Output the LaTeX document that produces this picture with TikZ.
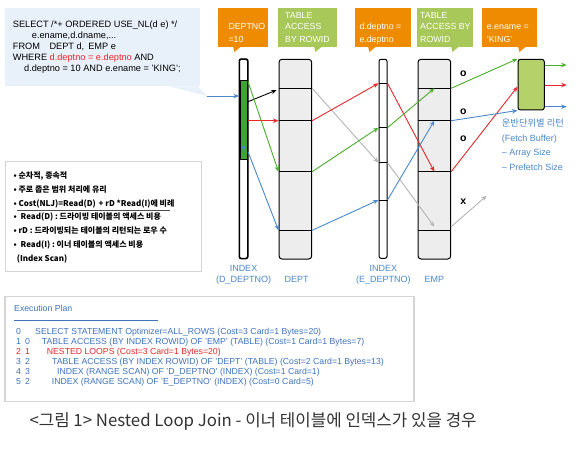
\documentclass[tikz,border=0pt]{standalone}
\usepackage{fontspec}
\setmainfont{Liberation Sans}
\newfontfamily\krfont{Noto Sans CJK KR}
\usetikzlibrary{arrows.meta}
\definecolor{sqlbg}{HTML}{E8F1F9}
\definecolor{corange}{HTML}{EE8B00}
\definecolor{cgreen}{HTML}{A8C85A}
\definecolor{fgreen}{HTML}{B5D16A}
\definecolor{bgreen}{HTML}{3EA535}
\definecolor{ared}{HTML}{E8282B}
\definecolor{agreen}{HTML}{4BAE2A}
\definecolor{ablue}{HTML}{4A88CB}
\definecolor{agray}{HTML}{B4B4B4}
\definecolor{pblue}{HTML}{3F74BD}
\definecolor{tfill}{HTML}{EDEDED}
\definecolor{bborder}{HTML}{D5D5D5}
\begin{document}
\begin{tikzpicture}[x=1pt,y=-1pt,
  tx/.style={inner sep=0pt,anchor=base west},
  sqlt/.style={tx,font=\fontsize{9.2}{11}\selectfont},
  calt/.style={tx,text=white,font=\fontsize{8.8}{11}\selectfont},
  lab/.style={inner sep=0pt,anchor=base,text=ablue,font=\fontsize{9}{11}\selectfont},
  bul/.style={tx,font=\krfont\bfseries\fontsize{8}{10}\selectfont},
  plan/.style={tx,text=pblue,font=\fontsize{8.7}{10}\selectfont},
  fet/.style={tx,text=ablue,font=\fontsize{9}{11}\selectfont},
  okmark/.style={inner sep=0pt,font=\bfseries\fontsize{10.5}{12}\selectfont},
  idxbar/.style={draw,fill=white,rounded corners=2pt,line width=1pt,inner sep=0pt,minimum width=8pt,minimum height=199pt},
  tbl/.style={draw,fill=tfill,rounded corners=3pt,line width=1pt,inner sep=0pt,minimum width=32.7pt,minimum height=199.7pt},
  rowline/.style={line width=0.6pt},
  callo/.style={fill=corange,inner sep=0pt,minimum height=38.4pt},
  callg/.style={fill=cgreen,inner sep=0pt,minimum height=38.4pt},
  arr/.style={line width=0.9pt,-{Stealth[length=5.5pt,width=4.5pt]}}
]
\useasboundingbox (0,0) rectangle (580,457);
\fill[white] (0,0) rectangle (580,457);

% ---------- SQL box ----------
\node[fill=sqlbg,inner sep=0pt,minimum width=195pt,minimum height=78pt] (sql) at (102.5,47.5) {};
\fill[sqlbg] (170,86.5) -- (198,86.5) -- (207,96) -- cycle;
\node[sqlt] (s1) at (12.7,28) {SELECT /*+ ORDERED USE\_NL(d e) */};
\node[sqlt] (s2) at (31.7,38.5) {e.ename,d.dname,...};
\node[sqlt] (s3) at (12.7,49.5) {FROM};
\node[sqlt] (s3b) at (49.3,49.5) {DEPT d,\hspace{4pt}EMP e};
\node[sqlt] (s4) at (12.7,61) {WHERE \textcolor{ared}{d.deptno = e.deptno} AND};
\node[sqlt] (s5) at (24,72) {d.deptno = 10 AND e.ename = 'KING';};

% ---------- callouts ----------
\node[callo,minimum width=50pt] (c1) at (243.3,27.5) {};
\fill[corange] (233,46.5) -- (241,46.5) -- (234.5,52) -- cycle;
\node[calt] (c1a) at (228.3,30) {DEPTNO};
\node[calt] (c1b) at (228.3,42.2) {=10};

\node[callg,minimum width=58.7pt] (c2) at (307.65,27.5) {};
\fill[cgreen] (314,46.5) -- (322,46.5) -- (315.5,52) -- cycle;
\node[calt] (c2a) at (285,18.2) {TABLE};
\node[calt] (c2b) at (285,30) {ACCESS};
\node[calt] (c2c) at (285,42.2) {BY ROWID};

\node[callo,minimum width=55.7pt] (c3) at (382.85,27.5) {};
\fill[corange] (368,46.5) -- (376,46.5) -- (369.5,52) -- cycle;
\node[calt] (c3a) at (359.3,30) {d.deptno =};
\node[calt] (c3b) at (359.3,42.2) {e.deptno};

\node[callg,minimum width=56.6pt] (c4) at (445,27.5) {};
\fill[cgreen] (451,46.5) -- (459,46.5) -- (452.5,52) -- cycle;
\node[calt] (c4a) at (420,18.2) {TABLE};
\node[calt] (c4b) at (420,30) {ACCESS BY};
\node[calt] (c4c) at (420,42.2) {ROWID};

\node[callo,minimum width=55.6pt] (c5) at (509.5,27.5) {};
\fill[corange] (518,46.5) -- (526,46.5) -- (519.5,52) -- cycle;
\node[calt] (c5a) at (486.7,30) {e.ename =};
\node[calt] (c5b) at (486.7,42.2) {'KING'};

% ---------- row coordinates ----------
\coordinate (r1) at (0,88.3);
\coordinate (r2) at (0,120.7);
\coordinate (r3) at (0,171.7);
\coordinate (r4) at (0,230.3);
\coordinate (e1) at (0,83.3);
\coordinate (e2) at (0,127.7);
\coordinate (e3) at (0,162.7);
\coordinate (e4) at (0,200);

% ---------- bars and tables ----------
\node[idxbar] (idxD) at (243.5,158.8) {};
\node[fill=bgreen,draw,line width=0.6pt,inner sep=0pt,minimum width=7pt,minimum height=78.6pt] (idxDg) at (243.5,120) {};
\draw[line width=1pt,rounded corners=2pt] (idxD.north west) rectangle (idxD.south east);
\node[tbl] (dept) at (295.35,159.15) {};
\node[idxbar] (idxE) at (383,158.8) {};
\node[tbl] (emp) at (434.35,159.15) {};
\node[draw,fill=fgreen,rounded corners=2.5pt,line width=1pt,inner sep=0pt,minimum width=26.3pt,minimum height=50.7pt] (fetch) at (531.15,84.65) {};

\foreach \r in {r1,r2,r3,r4}{
  \draw[rowline] (dept.west |- \r) -- (dept.east |- \r);
  \draw[rowline] (emp.west |- \r) -- (emp.east |- \r);
}
\foreach \r in {e1,e2,e3,e4}{
  \draw[rowline] (idxE.west |- \r) -- (idxE.east |- \r);
}

% ---------- labels ----------
\node[lab] (l1) at (243.5,271) {INDEX};
\node[lab] (l2) at (243.5,282.5) {(D\_DEPTNO)};
\node[lab] (l3) at (296.7,282.5) {DEPT};
\node[lab] (l4) at (383.3,271) {INDEX};
\node[lab] (l5) at (383.3,282.5) {(E\_DEPTNO)};
\node[lab] (l6) at (434.3,282.5) {EMP};

% ---------- arrows ----------
\coordinate (inB) at (206.7,96);
\coordinate (yk1) at (0,101.7);
\coordinate (yk2) at (0,89.3);
\coordinate (yg1) at (0,81.7);
\coordinate (yb1) at (0,151.7);
\coordinate (yb2) at (0,141);
\coordinate (yb3) at (0,151);
\coordinate (yx1) at (0,226.7);
\coordinate (yrf) at (0,86.7);
\coordinate (xend) at (486.7,195.7);
\coordinate (yo1) at (0,65);
\coordinate (yo2) at (0,85);
\coordinate (yo3) at (0,106.7);
\coordinate (o1) at (566.7,65);
\coordinate (o2) at (566.7,85);
\coordinate (o3) at (566.7,106.7);

\draw[arr,ablue] (inB) -- (idxD.west |- inB);
\draw[arr,black,shorten >=2pt] (idxD.east |- yk1) -- (dept.west |- yk2);
\draw[arr,ared] (idxD.east |- r2) -- (dept.west |- r2);
\draw[arr,agreen] (idxD.east |- yg1) -- (dept.west |- r3);
\draw[arr,ablue] (idxD.east |- yb1) -- (dept.west |- r4);
\draw[arr,ablue,line width=0.8pt] (idxD.center |- yb2) -- (idxD.center |- yb3);

\draw[arr,agray] (dept.east |- r1) -- (idxE.west |- e3);
\draw[arr,agray] (idxE.east |- e3) -- (emp.center |- yx1);
\draw[arr,agray] (emp.east |- yx1) -- (xend);

\draw[arr,ared] (dept.east |- r2) -- (idxE.west |- e1);
\draw[arr,ared] (idxE.east |- e1) -- (emp.center |- r3);
\draw[arr,ared] (emp.east |- r3) -- (fetch.west |- yrf);

\draw[arr,agreen] (dept.east |- r3) -- (idxE.west |- e2);
\draw[arr,agreen] (idxE.east |- e2) -- (emp.center |- r1);
\draw[arr,agreen] (emp.east |- r1) -- (fetch.north west);

\draw[arr,ablue] (dept.east |- r4) -- (idxE.west |- e4);
\draw[arr,ablue] (idxE.east |- e4) -- (emp.center |- r2);
\draw[arr,ablue] (emp.east |- r2) -- (fetch.south west);

\draw[arr,agreen] (fetch.east |- yo1) -- (o1);
\draw[arr,ared] (fetch.east |- yo2) -- (o2);
\draw[arr,ablue] (fetch.east |- yo3) -- (o3);

% ---------- marks ----------
\node[okmark] (m1) at (463.3,73.3) {o};
\node[okmark] (m2) at (463.3,111.7) {o};
\node[okmark] (m3) at (463.3,138.3) {o};
\node[okmark] (m4) at (463.3,201.7) {x};

% ---------- fetch buffer text ----------
\node[tx,text=ablue,font=\krfont\fontsize{9.3}{11}\selectfont] (f1) at (501.7,126.3) {운반단위별 리턴};
\node[fet] (f2) at (501.7,141.5) {(Fetch Buffer)};
\node[fet] (f3) at (501.7,156) {– Array Size};
\node[fet] (f4) at (501.7,170.5) {– Prefetch Size};

% ---------- bullet box ----------
\node[draw=bborder,line width=1pt,inner sep=0pt,minimum width=196pt,minimum height=110pt] (bbox) at (103,216.7) {};
\node[bul] (b1) at (13.3,178.3) {• 순차적, 종속적};
\node[bul] (b2) at (13.3,192.6) {• 주로 좁은 범위 처리에 유리};
\node[bul] (b3) at (13.3,206.6) {• Cost(NLJ)=Read(D)\hspace{1pt} + rD *Read(I)에 비례};
\coordinate (sepA) at (16.7,210.7);
\coordinate (sepB) at (170,210.7);
\draw[line width=0.5pt,black!70] (sepA) -- (sepB);
\node[bul] (b4) at (13.3,219.3) {•\hspace{4pt}Read(D) : 드라이빙 테이블의 액세스 비용};
\node[bul] (b5) at (13.3,233.3) {• rD : 드라이빙되는 테이블의 리턴되는 로우 수};
\node[bul] (b6) at (13.3,247.3) {•\hspace{4pt}Read(I) : 이너 테이블의 액세스 비용};
\node[bul] (b7) at (16.7,261.6) {(Index Scan)};

% ---------- execution plan ----------
\node[draw=bborder,line width=1.2pt,inner sep=0pt,minimum width=409pt,minimum height=105pt] (pbox) at (209.5,349.2) {};
\node[plan] (ph) at (14,311.5) {Execution Plan};
\coordinate (uA) at (14,320);
\coordinate (uB) at (158.3,320);
\draw[pblue,line width=0.8pt] (uA) -- (uB);

\node[plan] (n0) at (16,334.8) {0};
\node[plan] (p0) at (35,334.8) {SELECT STATEMENT Optimizer=ALL\_ROWS (Cost=3 Card=1 Bytes=20)};
\node[plan] (n1) at (16,344.7) {1};
\node[plan] (m1b) at (25,344.7) {0};
\node[plan] (p1) at (41.7,344.7) {TABLE ACCESS (BY INDEX ROWID) OF 'EMP' (TABLE) (Cost=1 Card=1 Bytes=7)};
\node[plan,text=ared] (n2) at (16,354.6) {2};
\node[plan,text=ared] (m2b) at (25,354.6) {1};
\node[plan,text=ared] (p2) at (46.7,354.6) {NESTED LOOPS (Cost=3 Card=1 Bytes=20)};
\node[plan] (n3) at (16,364.5) {3};
\node[plan] (m3b) at (25,364.5) {2};
\node[plan] (p3) at (52,364.5) {TABLE ACCESS (BY INDEX ROWID) OF 'DEPT' (TABLE) (Cost=2 Card=1 Bytes=13)};
\node[plan] (n4) at (16,374.4) {4};
\node[plan] (m4b) at (25,374.4) {3};
\node[plan] (p4) at (57,374.4) {INDEX (RANGE SCAN) OF 'D\_DEPTNO' (INDEX) (Cost=1 Card=1)};
\node[plan] (n5) at (16,384.3) {5};
\node[plan] (m5b) at (25,384.3) {2};
\node[plan] (p5) at (51.7,384.3) {INDEX (RANGE SCAN) OF 'E\_DEPTNO' (INDEX) (Cost=0 Card=5)};

% ---------- caption ----------
\node[tx,text=black!80,font=\krfont\fontsize{16.8}{19}\selectfont] (cap) at (29.3,426.5) {<그림 1> Nested Loop Join - 이너 테이블에 인덱스가 있을 경우};
\end{tikzpicture}
\end{document}
